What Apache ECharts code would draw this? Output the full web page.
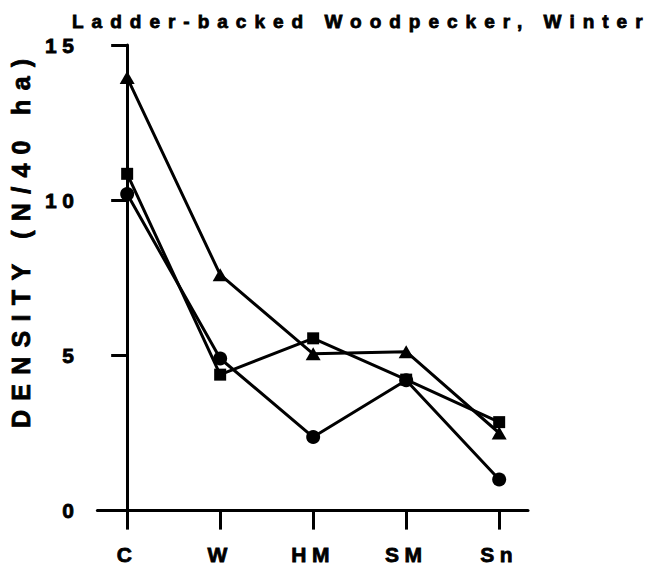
<!DOCTYPE html>
<html><head><meta charset="utf-8">
<script src="https://cdn.jsdelivr.net/npm/echarts@6/dist/echarts.min.js"></script>
<style>html,body{margin:0;padding:0;background:#fff}#c{width:656px;height:565px}</style>
</head><body><div id="c"></div>
<script>
const titleText = 'Ladder-backed Woodpecker, Winter';
const yAxisName = 'DENSITY (N/40 ha)';
const categories = ['C', 'W', 'HM', 'SM', 'Sn'];
const categoryIndex = [0, 1, 2, 3, 4];
const triangleValues = [13.95, 7.6, 5.05, 5.12, 2.5];
const squareValues = [10.85, 4.38, 5.55, 4.22, 2.85];
const circleValues = [10.2, 4.9, 2.37, 4.2, 1.0];

const FONT = "'Liberation Sans', Arial, sans-serif";
const toPairs = vals => vals.map((v, i) => [categoryIndex[i], v]);
const heavy = { textBorderColor: '#000', textBorderWidth: 0.8 };

function mkSeries(name, vals, symbol, size) {
  return {
    name, type: 'line', data: toPairs(vals), symbol, symbolSize: size,
    showAllSymbol: true,
    itemStyle: { color: '#000' },
    lineStyle: { color: '#000', width: 3 },
    emphasis: { disabled: true }
  };
}

const chart = echarts.init(document.getElementById('c'), null, { renderer: 'svg' });
chart.setOption({
  animation: false,
  backgroundColor: '#fff',
  title: {
    text: titleText, left: 72, top: 12, padding: 0,
    textStyle: Object.assign({ fontFamily: FONT, fontSize: 19, fontWeight: 'bold', color: '#000' }, heavy)
  },
  grid: { left: 96, right: 128, top: 45, bottom: 51 },
  xAxis: {
    type: 'value', min: -0.32, max: 4.31,
    axisLine: { show: true, lineStyle: { color: '#000', width: 3 } },
    axisTick: { show: true, customValues: categoryIndex, length: 19, lineStyle: { color: '#000', width: 3 } },
    axisLabel: Object.assign({
      customValues: categoryIndex, margin: 33,
      formatter: v => categories[Math.round(v)] || '',
      fontFamily: FONT, fontSize: 21, fontWeight: 'bold', color: '#000'
    }, heavy),
    splitLine: { show: false }
  },
  yAxis: {
    type: 'value', min: 0, max: 15, interval: 5,
    name: yAxisName, nameLocation: 'middle', nameRotate: 90, nameGap: 64,
    nameTextStyle: Object.assign({ fontFamily: FONT, fontSize: 25, fontWeight: 'bold', color: '#000', padding: [0, 0, 0, 78] }, heavy),
    axisLine: { show: true, lineStyle: { color: '#000', width: 3 } },
    axisTick: { show: true, length: 16, lineStyle: { color: '#000', width: 3 } },
    axisLabel: Object.assign({ margin: 18, fontFamily: FONT, fontSize: 21, fontWeight: 'bold', color: '#000' }, heavy),
    splitLine: { show: false }
  },
  series: [
    mkSeries('triangle', triangleValues, 'triangle', [15, 13]),
    mkSeries('square', squareValues, 'rect', 12),
    mkSeries('circle', circleValues, 'circle', 14)
  ]
});

function applySpacing() {
  document.querySelectorAll('#c text').forEach(t => {
    const s = t.textContent;
    let ls = '5.5';
    if (s === titleText) ls = '8';
    else if (s === yAxisName) ls = '9.3';
    if (t.getAttribute('letter-spacing') !== ls) t.setAttribute('letter-spacing', ls);
  });
}
applySpacing();
chart.on('finished', applySpacing);
new MutationObserver(applySpacing).observe(document.getElementById('c'), { childList: true, subtree: true });
</script></body></html>
